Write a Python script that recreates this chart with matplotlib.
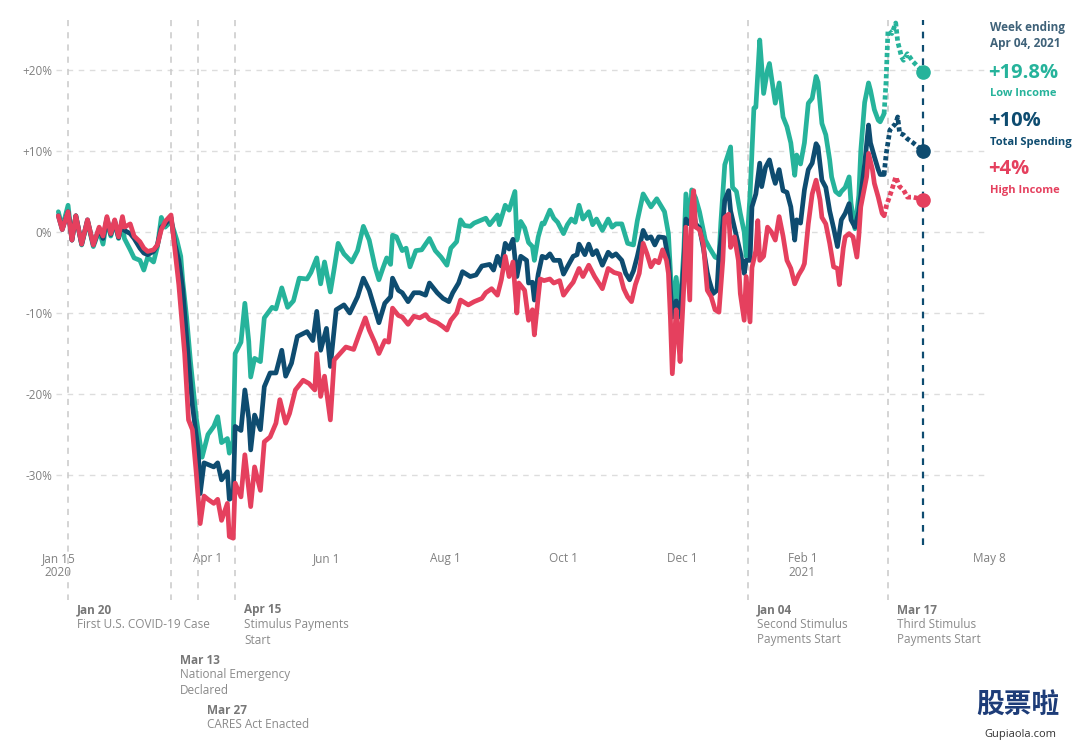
import pandas as pd
import matplotlib.pyplot as plt

plt.rcParams['font.family'] = ['Open Sans', 'DejaVu Sans']

start = pd.Timestamp('2020-01-15')

# days since Jan 15 2020, 7-day average change vs Jan 2020 (%)
low_days = [0, 2, 5, 7, 9, 12, 15, 18, 21, 23, 25, 27, 29, 31, 33, 34, 37, 39, 42, 44,
            46, 49, 51, 53, 55, 58, 61, 63, 64, 66, 68, 71, 74, 77, 80, 82, 84, 87, 88, 90,
            91, 94, 96, 98, 99, 101, 104, 106, 110, 112, 115, 118, 121, 124, 128, 130, 133, 135, 137, 140,
            142, 144, 147, 151, 154, 157, 160, 163, 165, 167, 169, 171, 172, 174, 177, 179, 181, 184, 187, 191,
            194, 197, 200, 202, 205, 207, 209, 212, 214, 217, 220, 222, 226, 227, 230, 232, 235, 236, 238, 240,
            242, 244, 245, 247, 249, 250, 253, 255, 257, 260, 262, 264, 266, 268, 270, 273, 275, 277, 280, 283,
            285, 287, 290, 292, 293, 296, 298, 301, 304, 305, 308, 310, 312, 314, 316, 318, 320, 322, 323, 325,
            326, 328, 330, 333, 335, 338, 340, 341, 343, 346, 347, 349, 351, 353, 354, 356, 357, 358, 359, 361,
            362, 363, 365, 366, 368, 369, 371, 373, 375, 377, 379, 380, 382, 384, 386, 388, 390, 391, 393, 395,
            397, 398, 400, 402, 403, 405, 407, 408, 410, 412, 413, 415, 417, 418, 420, 422, 423, 425,
            426, 427, 429, 431, 432, 434, 435, 437, 440, 445]
low_vals = [2.5, 0.5, 3.3, -1.0, 2.0, -1.6, 1.3, -1.8, 0.2, -1.5, 1.5, -0.5, 1.2, -0.8, 1.0, -0.8, -2.2, -3.2, -3.5, -4.7,
            -3.1, -3.7, -1.8, 1.8, 0.6, 1.3, -1.0, -3.0, -6.0, -10.5, -16.0, -23.0, -27.8, -25.0, -24.0, -22.8, -26.0, -25.5, -27.3, -25.7,
            -15.0, -13.6, -8.8, -13.5, -17.9, -15.6, -16.0, -10.6, -9.3, -9.5, -6.9, -9.3, -8.5, -5.7, -5.8, -5.0, -3.2, -6.4, -3.7, -7.4,
            -4.5, -1.4, -2.7, -3.7, -2.3, 0.7, -1.0, -4.3, -5.9, -4.5, -3.2, -4.0, -0.4, -0.6, -2.3, -2.0, -4.3, -2.3, -2.2, -0.8,
            -2.3, -3.1, -4.1, -2.0, -1.2, 1.5, 0.8, 0.7, 1.1, 1.4, 1.7, 0.9, 2.1, 0.9, 3.3, 2.7, 5.0, -1.0, 1.3, 0.5,
            -1.3, -1.8, -3.5, -0.6, 1.1, 1.0, 2.7, 1.7, 1.2, -0.2, 0.9, 1.6, 1.2, 3.3, 1.6, 2.5, 0.9, 1.6, 0.2, 1.6,
            0.6, 1.0, 1.0, -0.6, -1.4, -1.6, 1.4, 4.7, 3.5, 3.1, 4.1, 3.3, 2.5, -0.2, -9.3, -5.6, -10.0, -1.9, 4.7, 1.0,
            5.2, 4.2, 2.5, -1.0, -1.9, -3.1, -3.3, 1.2, 8.3, 10.5, 5.5, 5.0, 2.3, 0.0, -3.0, 4.5, 10.0, 15.3, 15.4, 23.7,
            20.5, 17.1, 20.0, 20.8, 17.5, 15.9, 18.4, 14.2, 13.0, 11.0, 7.0, 9.5, 8.4, 11.0, 15.9, 16.5, 19.2, 18.5, 13.4, 12.0,
            8.9, 6.8, 5.0, 4.6, 5.0, 5.5, 6.8, 3.5, 0.4, 4.5, 10.0, 16.0, 18.4, 17.5, 15.1, 13.8, 13.6, 14.6,
            18.5, 24.9, 24.5, 25.8, 23.5, 21.6, 21.2, 22.0, 21.0, 19.8]

total_days = [0, 2, 5, 7, 9, 12, 15, 18, 21, 23, 25, 27, 29, 31, 33, 34, 37, 39, 42, 44,
              46, 49, 51, 53, 55, 58, 60, 62, 64, 66, 69, 72, 73, 75, 80, 82, 84, 87, 88, 90,
              91, 94, 96, 98, 99, 101, 104, 106, 109, 112, 115, 117, 120, 123, 128, 131, 133, 135, 138, 140,
              143, 147, 150, 154, 157, 160, 163, 165, 168, 171, 172, 175, 177, 180, 183, 186, 189, 191, 195, 198,
              201, 203, 206, 208, 212, 215, 218, 222, 224, 226, 228, 230, 232, 234, 236, 238, 241, 242, 244, 245,
              247, 249, 251, 253, 255, 258, 260, 262, 265, 267, 268, 271, 273, 275, 277, 280, 283, 285, 287, 290,
              292, 294, 296, 298, 301, 303, 305, 307, 309, 312, 314, 316, 318, 320, 322, 323, 325, 327, 328, 330,
              332, 334, 335, 337, 339, 340, 342, 343, 345, 346, 348, 349, 351, 353, 354, 356, 357, 359, 361, 362,
              364, 366, 368, 369, 371, 373, 375, 377, 379, 380, 382, 384, 386, 388, 390, 391, 393, 395, 397, 399,
              401, 403, 405, 407, 408, 410, 412, 414, 415, 417, 418, 420, 422, 423, 425,
              426, 428, 431, 432, 433, 435, 437, 440, 445]
total_vals = [2.0, 0.3, 2.5, -1.0, 2.0, -1.5, 1.5, -1.6, 0.4, -0.8, 1.7, -0.3, 1.4, -0.7, 1.6, 0.2, -0.2, -0.8, -2.0, -2.6,
              -2.8, -2.4, -1.6, 0.6, 1.0, 1.8, -1.5, -3.5, -7.0, -13.0, -21.4, -27.0, -32.3, -28.5, -29.0, -28.5, -30.6, -29.6, -33.0, -32.7,
              -24.0, -24.5, -19.5, -23.0, -26.9, -22.6, -24.4, -19.1, -17.4, -17.4, -14.6, -17.8, -16.2, -12.9, -12.3, -13.4, -9.8, -14.6, -11.9, -16.6,
              -9.6, -9.0, -10.0, -8.0, -5.7, -7.2, -9.6, -11.2, -8.8, -8.0, -5.7, -7.2, -7.5, -8.6, -7.5, -7.5, -7.8, -6.3, -7.5, -8.2,
              -8.6, -7.5, -6.3, -4.9, -5.5, -5.3, -4.2, -4.0, -4.7, -3.0, -4.2, -1.4, -2.1, -0.9, -5.5, -3.0, -3.5, -6.3, -6.2, -8.4,
              -5.2, -3.0, -3.2, -2.7, -3.5, -3.5, -5.2, -4.3, -3.0, -2.8, -1.5, -2.8, -1.5, -2.8, -2.3, -4.1, -2.5, -3.0, -2.7, -3.5,
              -5.1, -5.9, -4.8, -3.0, 0.2, -0.8, -0.6, -1.6, -0.6, -0.7, -3.5, -10.5, -8.5, -10.5, -3.5, 1.6, 1.0, 2.4, 1.0, 0.5,
              -2.0, -5.0, -6.0, -7.6, -7.2, -3.0, 1.0, 3.9, 5.1, 2.6, 0.5, -0.5, -2.5, -5.1, -3.5, -3.5, 3.1, 4.7, 8.5, 5.6,
              8.0, 8.9, 6.8, 6.0, 7.7, 5.1, 4.9, 3.1, -1.0, 1.5, 1.1, 5.2, 7.7, 8.5, 10.9, 10.5, 6.4, 5.5, 2.6, 0.5,
              -1.8, 1.5, 2.3, 3.5, 1.5, 0.6, 2.5, 6.5, 8.4, 13.2, 11.0, 9.3, 7.7, 7.1, 7.1,
              9.5, 12.6, 13.4, 14.2, 12.2, 12.0, 11.5, 11.0, 10.0]

high_days = [0, 2, 5, 7, 9, 12, 15, 18, 21, 23, 25, 27, 29, 31, 33, 34, 37, 39, 42, 44,
             46, 49, 51, 53, 55, 58, 60, 62, 65, 67, 69, 71, 73, 75, 77, 80, 82, 84, 87, 88,
             90, 91, 94, 96, 99, 101, 104, 106, 109, 112, 114, 117, 119, 122, 126, 129, 132, 133, 135, 137,
             140, 142, 145, 148, 152, 155, 158, 160, 163, 165, 168, 170, 172, 175, 177, 180, 183, 186, 189, 191,
             195, 198, 200, 202, 205, 207, 211, 214, 218, 220, 223, 226, 228, 230, 232, 234, 236, 237, 240, 241,
             242, 244, 245, 247, 248, 250, 253, 255, 258, 260, 263, 265, 268, 270, 273, 276, 280, 283, 286, 289,
             291, 293, 295, 297, 299, 301, 303, 305, 307, 309, 311, 313, 314, 315, 316, 318, 319, 320, 322, 323,
             325, 326, 327, 328, 330, 332, 334, 336, 338, 340, 342, 343, 345, 346, 348, 350, 351, 353, 354, 356,
             357, 359, 360, 361, 363, 365, 367, 369, 371, 373, 375, 377, 379, 381, 383, 384, 386, 388, 390, 392,
             393, 395, 397, 399, 401, 402, 404, 405, 407, 409, 411, 412, 413, 416, 417, 419, 420, 422, 424, 425,
             426, 429, 431, 433, 435, 437, 440, 445]
high_vals = [2.0, 0.3, 2.5, -1.0, 2.0, -1.5, 1.5, -1.6, 0.6, -0.5, 1.9, -0.2, 1.5, -0.6, 1.9, 0.6, 1.0, -0.5, -1.2, -2.0,
             -2.4, -2.2, -1.6, 0.3, 1.3, 2.1, -2.2, -6.5, -15.0, -23.2, -24.4, -29.8, -36.0, -32.6, -33.0, -33.5, -33.0, -35.6, -33.5, -37.6,
             -37.8, -31.0, -32.7, -27.5, -33.9, -29.0, -31.9, -25.9, -25.3, -23.6, -20.7, -23.6, -22.4, -19.5, -18.3, -18.7, -19.5, -15.0, -20.3, -17.8,
             -23.2, -15.8, -15.0, -14.2, -14.5, -12.5, -10.6, -12.1, -13.7, -15.0, -13.4, -13.6, -9.4, -10.3, -10.5, -11.4, -10.4, -10.6, -10.2, -10.8,
             -11.2, -11.7, -12.1, -10.9, -10.0, -8.4, -9.0, -8.6, -8.2, -7.5, -7.0, -7.8, -5.9, -3.0, -5.5, -3.7, -10.0, -6.3, -7.2, -9.0,
             -10.9, -9.6, -12.7, -8.0, -5.8, -6.0, -5.8, -6.3, -6.0, -7.8, -6.8, -6.2, -4.5, -5.5, -4.1, -5.5, -7.0, -4.5, -5.0, -5.2,
             -7.0, -8.0, -8.6, -6.5, -5.1, -1.4, -2.7, -4.3, -3.5, -3.8, -2.2, -3.5, -5.1, -10.5, -17.5, -9.6, -12.5, -16.0, -6.4, 0.6,
             -8.4, 3.1, 5.1, 0.6, 0.3, -1.5, -7.2, -8.0, -9.6, -9.9, -3.5, 1.8, 2.2, -1.9, -0.6, -3.5, -7.6, -10.9, -5.5, -11.1,
             -4.4, -2.3, 1.4, -3.5, -3.0, 0.6, 0.0, -1.0, 1.9, -0.5, -3.5, -4.5, -6.4, -5.3, -4.5, -3.9, 1.0, 4.7, 6.4, 4.0,
             1.8, 1.0, -1.4, -4.3, -4.5, -6.5, -2.0, -0.6, -0.2, -0.6, -3.1, -0.5, 3.1, 6.8, 9.7, 7.7, 6.0, 4.3, 2.3, 2.0,
             3.1, 5.2, 6.8, 5.6, 5.2, 4.3, 4.3, 4.0]

series_names = ['Low Income', 'Total Spending', 'High Income']
series_colors = ['#26b39b', '#0e4c70', '#e5405e']
latest_labels = ['+19.8%', '+10%', '+4%']
projection_start = 425  # day from which the line is drawn dashed

yticks = [20, 10, 0, -10, -20, -30]
ytick_labels = ['+20%', '+10%', '0%', '-10%', '-20%', '-30%']
xtick_dates = ['2020-01-15', '2020-04-01', '2020-06-01', '2020-08-01',
               '2020-10-01', '2020-12-01', '2021-02-01', '2021-05-08']
xtick_labels = ['Jan 15\n2020', 'Apr 1', 'Jun 1', 'Aug 1', 'Oct 1', 'Dec 1', 'Feb 1\n2021', 'May 8']

event_dates = ['2020-01-20', '2020-03-13', '2020-03-27', '2020-04-15', '2021-01-04', '2021-03-17']
event_titles = ['Jan 20', 'Mar 13', 'Mar 27', 'Apr 15', 'Jan 04', 'Mar 17']
event_texts = ['First U.S. COVID-19 Case', 'National Emergency\nDeclared', 'CARES Act Enacted',
               'Stimulus Payments\nStart', 'Second Stimulus\nPayments Start', 'Third Stimulus\nPayments Start']
event_rows = [0, 1, 2, 0, 0, 0]
latest_date = '2021-04-04'


def to_dates(days):
    return start + pd.to_timedelta(days, unit='D')


fig = plt.figure(figsize=(10.8, 7.44), dpi=100)
ax = fig.add_axes([56.4 / 1080, 199 / 744, 932.6 / 1080, 525 / 744])

for days, vals, color in zip([low_days, total_days, high_days],
                             [low_vals, total_vals, high_vals], series_colors):
    s = pd.Series(vals, index=to_dates(days))
    cut = start + pd.Timedelta(days=projection_start)
    solid = s[s.index <= cut]
    proj = s[s.index >= cut]
    ax.plot(solid.index, solid.values, color=color, lw=3.4, solid_joinstyle='round',
            solid_capstyle='round', zorder=4)
    ax.plot(proj.index, proj.values, color=color, lw=3.4, linestyle=(0, (0.9, 0.6)), zorder=4)
    ax.plot(proj.index[-1], proj.values[-1], 'o', color=color, ms=9.5, zorder=5)

ax.set_xlim(start - pd.Timedelta(days=1), start + pd.Timedelta(days=479))
ax.set_ylim(-38.64, 26.17)

ax.set_yticks(yticks)
ax.set_yticklabels(ytick_labels)
ax.set_xticks(pd.to_datetime(xtick_dates))
ax.set_xticklabels(xtick_labels)
ax.tick_params(length=0, labelsize=8.5, labelcolor='#808080')
ax.tick_params(axis='y', pad=3)
ax.tick_params(axis='x', pad=5)
for lbl in ax.get_xticklabels():
    lbl.set_bbox(dict(facecolor='white', edgecolor='none', pad=1))
    lbl.set_linespacing(1.1)
for sp in ax.spines.values():
    sp.set_visible(False)
ax.grid(axis='y', color='#dddddd', linestyle=(0, (4, 4)), lw=1)
ax.set_axisbelow(True)

# event markers
for d, title, text, row in zip(event_dates, event_titles, event_texts, event_rows):
    x = pd.Timestamp(d)
    ax.plot([x, x], [1.0, -0.105], transform=ax.get_xaxis_transform(), color='#c9c9c9',
            lw=1.1, linestyle=(0, (4, 4)), clip_on=False, zorder=1)
    y0 = 744 - (610 + 50 * row)
    ax.annotate(title, xy=(x, y0), xycoords=('data', 'figure pixels'), xytext=(6.5, 0),
                textcoords='offset points', ha='left', va='center', fontsize=8.5,
                fontweight='bold', color='#777777', annotation_clip=False)
    ax.annotate(text, xy=(x, y0 - 8), xycoords=('data', 'figure pixels'), xytext=(6.5, 0),
                textcoords='offset points', ha='left', va='top', fontsize=8.5,
                color='#8a8a8a', linespacing=1.25, annotation_clip=False)

ax.axvline(pd.Timestamp(latest_date), color='#0e4c70', lw=1.6, linestyle=(0, (3, 3)), zorder=3)

# right-hand summary
fig.text(990 / 1080, 1 - 35 / 744, 'Week ending\nApr 04, 2021', ha='left', va='center',
         fontsize=8.5, fontweight='bold', color='#3f6279', linespacing=1.3)
for i, (name, lab, color) in enumerate(zip(series_names, latest_labels, series_colors)):
    y = 73 + 48 * i
    fig.text(988 / 1080, 1 - y / 744, lab, ha='left', va='center', fontsize=14.5,
             fontweight='bold', color=color)
    fig.text(990 / 1080, 1 - (y + 21) / 744, name, ha='left', va='center', fontsize=8,
             fontweight='bold', color=color)

# source watermark
fig.text(1018 / 1080, 1 - 706 / 744, '股票啦', ha='center', va='center', fontsize=20,
         fontweight='bold', color='#1d3c78', family=['Noto Sans CJK SC', 'DejaVu Sans'])
fig.text(1020 / 1080, 1 - 734 / 744, 'Gupiaola.com', ha='center', va='center', fontsize=8,
         color='#333333')

fig.savefig('out.png', dpi=100)
